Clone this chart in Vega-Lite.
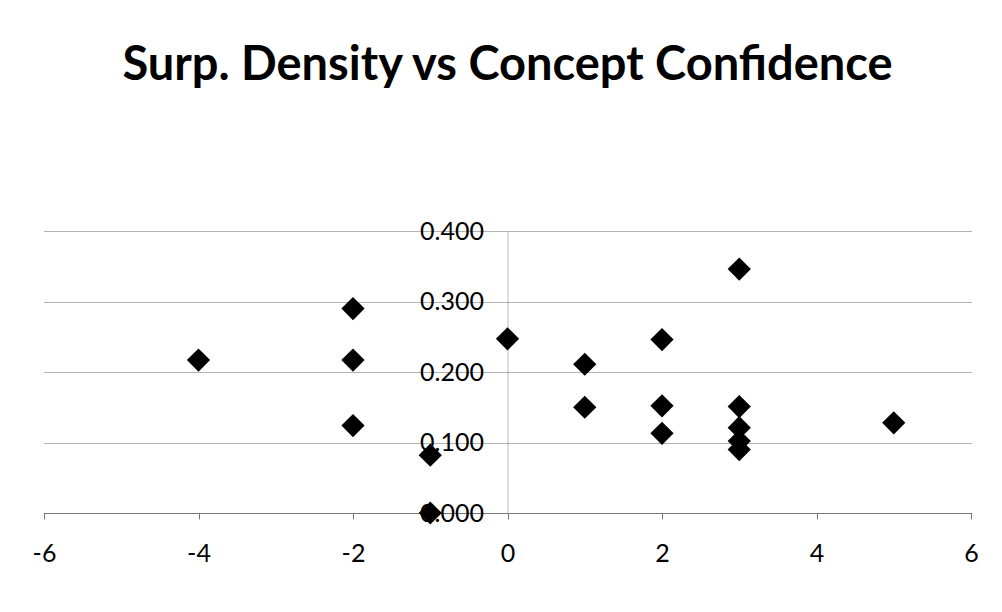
{
  "$schema": "https://vega.github.io/schema/vega-lite/v6.json",
  "autosize": "none",
  "width": 927,
  "height": 282,
  "padding": {"left": 44, "top": 231, "right": 31, "bottom": 99},
  "background": "white",
  "title": {
    "text": "Surp. Density vs Concept Confidence",
    "font": "Lato",
    "fontSize": 47,
    "fontWeight": "bold",
    "color": "#000000",
    "anchor": "middle",
    "baseline": "bottom",
    "offset": 82
  },
  "data": {
    "values": [
      {"confidence": -4, "density": 0.217},
      {"confidence": -2, "density": 0.290},
      {"confidence": -2, "density": 0.217},
      {"confidence": -2, "density": 0.124},
      {"confidence": -1, "density": 0.082},
      {"confidence": -1, "density": 0.000},
      {"confidence": 0, "density": 0.247},
      {"confidence": 1, "density": 0.211},
      {"confidence": 1, "density": 0.150},
      {"confidence": 2, "density": 0.246},
      {"confidence": 2, "density": 0.152},
      {"confidence": 2, "density": 0.113},
      {"confidence": 3, "density": 0.346},
      {"confidence": 3, "density": 0.151},
      {"confidence": 3, "density": 0.121},
      {"confidence": 3, "density": 0.102},
      {"confidence": 3, "density": 0.090},
      {"confidence": 5, "density": 0.128}
    ]
  },
  "mark": {"type": "point", "shape": "diamond", "filled": true, "color": "#000000", "opacity": 1, "size": 540},
  "encoding": {
    "x": {
      "field": "confidence",
      "type": "quantitative",
      "scale": {"domain": [-6, 6], "nice": false, "zero": false},
      "axis": {
        "title": null,
        "values": [-6, -4, -2, 0, 2, 4, 6],
        "labelExpr": "'' + datum.value",
        "grid": false,
        "domainColor": "#777777",
        "tickColor": "#777777",
        "tickSize": 6,
        "labelFont": "Lato",
        "labelFontSize": 25,
        "labelColor": "#000000",
        "labelPadding": 22,
        "labelFlush": false
      }
    },
    "y": {
      "field": "density",
      "type": "quantitative",
      "scale": {"domain": [0, 0.4], "nice": false},
      "axis": {
        "title": null,
        "values": [0, 0.1, 0.2, 0.3, 0.4],
        "format": ".3f",
        "offset": -463.5,
        "ticks": false,
        "domainColor": "#777777",
        "domainDash": [1, 1],
        "grid": true,
        "gridColor": "#666666",
        "gridDash": [1, 1],
        "gridWidth": 1,
        "labelFont": "Lato",
        "labelFontSize": 25,
        "labelColor": "#000000",
        "labelPadding": 24
      }
    }
  },
  "config": {"view": {"stroke": null}}
}
